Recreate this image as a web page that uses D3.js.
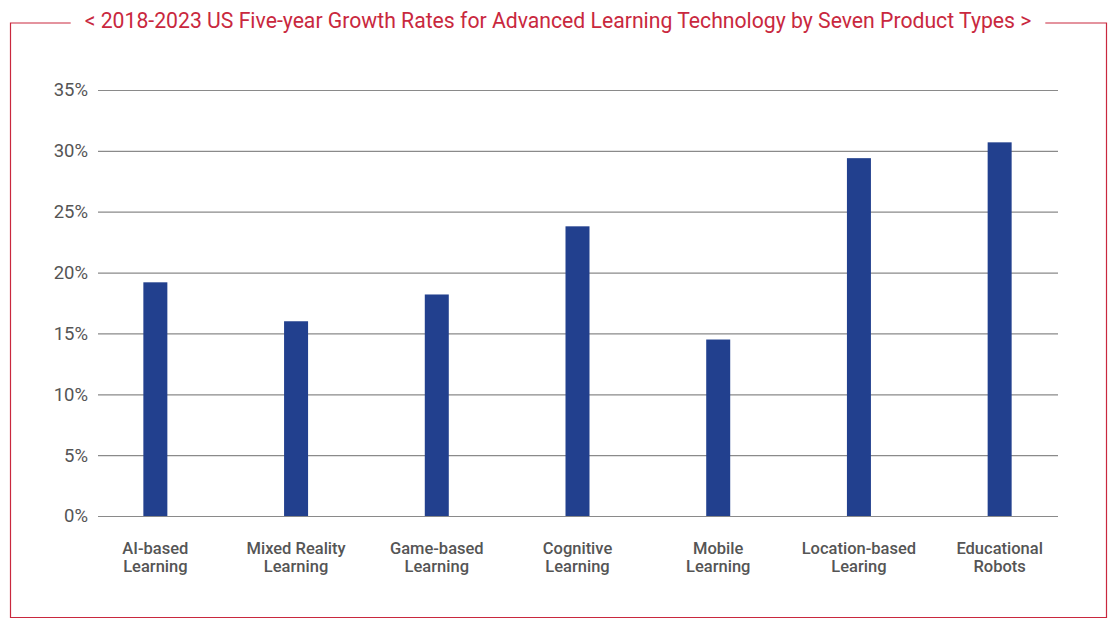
<!DOCTYPE html>
<html>
<head>
<meta charset="utf-8">
<script src="https://cdn.jsdelivr.net/npm/d3@7"></script>
<style>
  body { margin: 0; background: #fff; }
  svg { display: block; font-family: Roboto, "Noto Sans", sans-serif; }
</style>
</head>
<body>
<svg id="chart" width="1117" height="630"></svg>
<script>
// ===============================
// Dades
// ===============================
const titleText = "< 2018-2023 US Five-year Growth Rates for Advanced Learning Technology by Seven Product Types >";

const categories = [
  ["AI-based", "Learning"],
  ["Mixed Reality", "Learning"],
  ["Game-based", "Learning"],
  ["Cognitive", "Learning"],
  ["Mobile", "Learning"],
  ["Location-based", "Learing"],
  ["Educational", "Robots"]
];

const growthRates = [19.2, 16.0, 18.2, 23.8, 14.5, 29.4, 30.7];

const yTicks = [0, 5, 10, 15, 20, 25, 30, 35];


// ===============================
// Mides
// ===============================
const red = "#c9283e";

const svg = d3.select("#chart");

const x = d3.scaleBand()
  .domain(categories.map((d, i) => i))
  .range([85, 1070]);

const y = d3.scaleLinear()
  .domain([0, 35])
  .range([516, 90]);


// ===============================
// Marc i títol
// ===============================
const title = svg.append("text")
  .attr("x", 558)
  .attr("y", 28)
  .attr("text-anchor", "middle")
  .text(titleText)
  .style("font-size", "21.2px")
  .style("fill", red);

const tb = title.node().getBBox();
const gap = 14;

svg.append("path")
  .attr("d", `M${tb.x - gap},23 H10.5 V617.5 H1106.5 V23 H${tb.x + tb.width + gap}`)
  .attr("fill", "none")
  .attr("stroke", red)
  .attr("stroke-width", 1.2);


// ===============================
// Eix Y i graella
// ===============================
const yAxis = svg.append("g")
  .attr("transform", "translate(98,0)")
  .call(d3.axisLeft(y)
    .tickValues(yTicks)
    .tickSize(-960)
    .tickPadding(10)
    .tickFormat(d => d + "%"));

yAxis.select(".domain").remove();
yAxis.selectAll(".tick line")
  .attr("stroke", "#8a8a8a")
  .attr("stroke-width", 1.2);
yAxis.selectAll(".tick text")
  .style("font-size", "18.5px")
  .style("font-family", "Roboto, sans-serif")
  .style("fill", "#555");


// ===============================
// Barres
// ===============================
const barWidth = 24;

svg.selectAll(".bar")
  .data(growthRates)
  .enter()
  .append("rect")
  .attr("class", "bar")
  .attr("x", (d, i) => x(i) + x.bandwidth() / 2 - barWidth / 2)
  .attr("y", d => y(d))
  .attr("width", barWidth)
  .attr("height", d => y(0) - y(d))
  .attr("fill", "#22408e");


// ===============================
// Etiquetes de categoria
// ===============================
const labels = svg.selectAll(".cat-label")
  .data(categories)
  .enter()
  .append("text")
  .attr("class", "cat-label")
  .attr("text-anchor", "middle")
  .attr("transform", (d, i) => `translate(${x(i) + x.bandwidth() / 2}, 554)`)
  .style("font-size", "16.5px")
  .style("font-weight", "500")
  .style("fill", "#555");

labels.selectAll("tspan")
  .data(d => d)
  .enter()
  .append("tspan")
  .attr("x", 0)
  .attr("dy", (d, i) => i === 0 ? 0 : 18)
  .text(d => d);
</script>
</body>
</html>
